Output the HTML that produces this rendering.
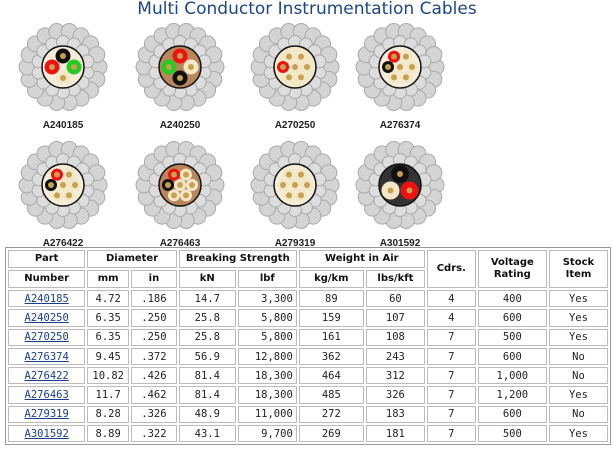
<!DOCTYPE html>
<html><head><meta charset="utf-8"><style>
body{margin:0;width:614px;height:452px;background:#fff;overflow:hidden;position:relative;font-family:"DejaVu Sans","Liberation Sans",sans-serif}
h1{position:absolute;top:-1px;left:0;width:614px;text-align:center;margin:0;font-size:17px;font-weight:normal;color:#1d4685}
svg{position:absolute;left:0;top:0}
table{position:absolute;left:5px;top:247px;width:606px;border:1px solid #999;border-spacing:2px;border-collapse:separate}
td{border:1px solid #bbb;height:15.3px;padding:0 3px;font-family:"DejaVu Sans Mono","Liberation Mono",monospace;font-size:10.5px;line-height:12px;text-align:center;color:#222;white-space:nowrap}
td.h{font-family:"DejaVu Sans",sans-serif;font-weight:bold;font-size:10px;color:#111;height:16px}
td.r{text-align:right}
a{color:#1a3e8a;text-decoration:underline}
</style></head><body>
<h1>Multi Conductor Instrumentation Cables</h1>
<svg id="s" width="614" height="250"></svg>
<table>
<tr><td class="h" style="width:68px">Part</td><td class="h" colspan="2">Diameter</td><td class="h" colspan="2">Breaking Strength</td><td class="h" colspan="2">Weight in Air</td><td class="h" rowspan="2" style="width:40px">Cdrs.</td><td class="h" rowspan="2" style="width:60px">Voltage<br>Rating</td><td class="h" rowspan="2" style="width:50px">Stock<br>Item</td></tr>
<tr><td class="h">Number</td><td class="h" style="width:33px">mm</td><td class="h" style="width:37px">in</td><td class="h" style="width:48px">kN</td><td class="h" style="width:50px">lbf</td><td class="h" style="width:56px">kg/km</td><td class="h" style="width:50px">lbs/kft</td></tr>
<tr><td><a>A240185</a></td><td>4.72</td><td>.186</td><td>14.7</td><td class="r">3,300</td><td>89</td><td>60</td><td>4</td><td>400</td><td>Yes</td></tr>
<tr><td><a>A240250</a></td><td>6.35</td><td>.250</td><td>25.8</td><td class="r">5,800</td><td>159</td><td>107</td><td>4</td><td>600</td><td>Yes</td></tr>
<tr><td><a>A270250</a></td><td>6.35</td><td>.250</td><td>25.8</td><td class="r">5,800</td><td>161</td><td>108</td><td>7</td><td>500</td><td>Yes</td></tr>
<tr><td><a>A276374</a></td><td>9.45</td><td>.372</td><td>56.9</td><td class="r">12,800</td><td>362</td><td>243</td><td>7</td><td>600</td><td>No</td></tr>
<tr><td><a>A276422</a></td><td>10.82</td><td>.426</td><td>81.4</td><td class="r">18,300</td><td>464</td><td>312</td><td>7</td><td>1,000</td><td>No</td></tr>
<tr><td><a>A276463</a></td><td>11.7</td><td>.462</td><td>81.4</td><td class="r">18,300</td><td>485</td><td>326</td><td>7</td><td>1,200</td><td>Yes</td></tr>
<tr><td><a>A279319</a></td><td>8.28</td><td>.326</td><td>48.9</td><td class="r">11,000</td><td>272</td><td>183</td><td>7</td><td>600</td><td>No</td></tr>
<tr><td><a>A301592</a></td><td>8.89</td><td>.322</td><td>43.1</td><td class="r">9,700</td><td>269</td><td>181</td><td>7</td><td>500</td><td>Yes</td></tr>
</table>
<script>
var s=document.getElementById('s'),h='';
var cab=[[63,67,'A240185','#f3edd8',['#111','#2c2','#f2e8c8','#e11']],
[180,67,'A240250','#b8865a',['#e11','#f2e8c8','#111','#2c2']],
[295,67,'A270250','#f2e8c8',['#e11','#f2e8c8','#f2e8c8','#f2e8c8','#f2e8c8','#f2e8c8','#f2e8c8']],
[400,67,'A276374','#f3edd8',['#111','#e11','#f2e8c8','#f2e8c8','#f2e8c8','#f2e8c8','#f2e8c8']],
[63,185,'A276422','#f3edd8',['#111','#e11','#f2e8c8','#f2e8c8','#f2e8c8','#f2e8c8','#f2e8c8']],
[180,185,'A276463','#b8865a',['#111','#e11','#f2e8c8','#f2e8c8','#f2e8c8','#f2e8c8','#f2e8c8']],
[295,185,'A279319','#f3edd8',['#f2e8c8','#f2e8c8','#f2e8c8','#f2e8c8','#f2e8c8','#f2e8c8','#f2e8c8']],
[400,185,'A301592','#333',['#111','#e11','#f2e8c8']]];
cab.forEach(function(c){var x=c[0],y=c[1];
 for(var i=0;i<18;i++){var a=i*Math.PI*2/18;h+='<circle cx="'+(x+36*Math.cos(a))+'" cy="'+(y+36*Math.sin(a))+'" r="8" fill="#d4d4d4" stroke="#aaa"/>';}
 for(var i=0;i<14;i++){var a=(i+.5)*Math.PI*2/14;h+='<circle cx="'+(x+25*Math.cos(a))+'" cy="'+(y+25*Math.sin(a))+'" r="6.5" fill="#ddd" stroke="#aaa"/>';}
 h+='<circle cx="'+x+'" cy="'+y+'" r="21" fill="'+c[3]+'" stroke="#111" stroke-width="1.5"/>';
 var n=c[4].length;
 c[4].forEach(function(col,i){var cx,cy,r;
  if(n==7){if(i==6){cx=x;cy=y}else{var a=i*Math.PI/3+Math.PI;cx=x+12*Math.cos(a);cy=y+12*Math.sin(a)}r=6}
  else{var a=i*Math.PI*2/n-Math.PI/2;cx=x+11*Math.cos(a);cy=y+11*Math.sin(a);r=n==3?9:7.5}
  h+='<circle cx="'+cx+'" cy="'+cy+'" r="'+r+'" fill="'+col+'"/><circle cx="'+cx+'" cy="'+cy+'" r="3" fill="#c9a050"/>';});
 h+='<text x="'+x+'" y="'+(y+61)+'" text-anchor="middle" font-family="Liberation Sans,sans-serif" font-size="10" font-weight="bold" fill="#222">'+c[2]+'</text>';
});
s.innerHTML=h;
</script>
</body></html>
